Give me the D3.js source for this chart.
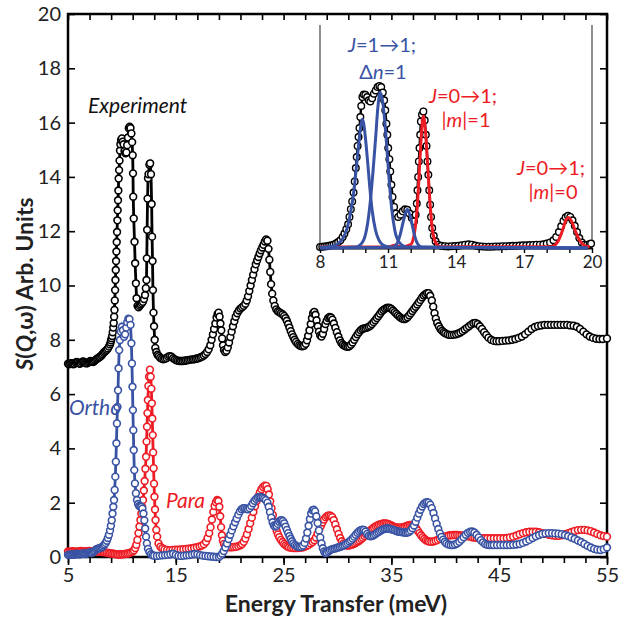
<!DOCTYPE html>
<html>
<head>
<meta charset="utf-8">
<script src="https://cdn.jsdelivr.net/npm/d3@7/dist/d3.min.js"></script>
<style>
  body { margin: 0; background: #fff; }
  text { font-family: Lato, "Open Sans", "DejaVu Sans", sans-serif; }
</style>
</head>
<body>
<div id="vis"></div>
<script>
// S(Q,w): [energy transfer (meV), intensity]
var experiment = [
  [5.0,7.12],[5.1,7.1],[5.2,7.12],[5.3,7.14],[5.4,7.13],[5.5,7.1],[5.6,7.12],[5.7,7.16],[5.8,7.18],[5.9,7.17],
  [6.0,7.14],[6.1,7.12],[6.2,7.14],[6.3,7.18],[6.4,7.2],[6.5,7.18],[6.6,7.15],[6.7,7.13],[6.8,7.14],[6.9,7.17],
  [7.0,7.2],[7.1,7.22],[7.2,7.2],[7.3,7.18],[7.4,7.2],[7.5,7.24],[7.6,7.27],[7.7,7.3],[7.8,7.33],[7.9,7.36],
  [8.0,7.38],[8.1,7.42],[8.2,7.47],[8.3,7.52],[8.4,7.56],[8.5,7.6],[8.6,7.63],[8.7,7.68],[8.8,7.75],[8.9,7.83],
  [8.95,7.9],[9.0,7.98],[9.05,8.06],[9.1,8.14],[9.15,8.28],[9.2,8.45],[9.24,8.62],[9.28,8.85],[9.31,9.1],[9.34,9.45],
  [9.37,9.83],[9.4,10.2],[9.43,10.57],[9.46,10.9],[9.49,11.25],[9.52,11.6],[9.55,11.97],[9.58,12.4],[9.61,12.77],[9.64,13.14],
  [9.67,13.5],[9.7,13.94],[9.74,14.25],[9.78,14.6],[9.82,14.97],[9.86,15.2],[9.92,15.36],[10.0,15.42],[10.08,15.3],[10.16,15.2],
  [10.24,14.95],[10.33,14.87],[10.42,14.9],[10.49,15.17],[10.56,15.45],[10.64,15.79],[10.72,15.85],[10.8,15.8],[10.88,15.6],[10.95,15.28],
  [11.0,14.8],[11.03,14.13],[11.05,13.27],[11.1,12.47],[11.17,11.61],[11.23,10.82],[11.3,10.08],[11.36,9.53],[11.45,9.25],[11.55,9.2],
  [11.65,9.25],[11.75,9.3],[11.85,9.35],[11.95,9.4],[12.05,9.5],[12.15,9.65],[12.22,9.9],[12.28,10.2],[12.31,11.0],[12.34,12.05],
  [12.38,13.2],[12.42,13.95],[12.47,14.1],[12.55,14.45],[12.62,14.5],[12.7,14.1],[12.76,13.0],[12.8,11.8],[12.84,10.9],[12.88,9.83],
  [12.93,9.0],[12.98,8.5],[13.04,8.0],[13.1,7.7],[13.2,7.55],[13.3,7.45],[13.42,7.4],[13.55,7.34],[13.7,7.3],[13.85,7.28],
  [14.0,7.3],[14.15,7.33],[14.3,7.38],[14.45,7.4],[14.6,7.38],[14.75,7.32],[14.9,7.28],[15.05,7.25],[15.2,7.23],[15.35,7.22],
  [15.5,7.22],[15.65,7.22],[15.8,7.23],[15.95,7.24],[16.1,7.25],[16.25,7.26],[16.4,7.27],[16.55,7.28],[16.7,7.28],[16.85,7.3],
  [17.0,7.31],[17.15,7.33],[17.3,7.36],[17.45,7.38],[17.6,7.42],[17.75,7.48],[17.9,7.55],[18.05,7.65],[18.2,7.8],[18.32,8.0],
  [18.44,8.2],[18.55,8.4],[18.67,8.6],[18.78,8.82],[18.88,8.95],[18.97,9.0],[19.06,8.85],[19.14,8.6],[19.22,8.35],[19.3,8.05],
  [19.38,7.8],[19.47,7.62],[19.58,7.55],[19.7,7.6],[19.82,7.72],[19.94,7.9],[20.06,8.1],[20.18,8.3],[20.3,8.5],[20.43,8.68],
  [20.56,8.85],[20.7,8.98],[20.85,9.08],[21.0,9.15],[21.15,9.2],[21.3,9.25],[21.45,9.33],[21.58,9.45],[21.7,9.6],[21.82,9.8],
  [21.94,10.0],[22.06,10.2],[22.18,10.4],[22.3,10.6],[22.42,10.78],[22.54,10.92],[22.66,11.05],[22.78,11.18],[22.9,11.3],[23.02,11.4],
  [23.14,11.5],[23.26,11.62],[23.38,11.7],[23.5,11.65],[23.6,11.35],[23.68,10.95],[23.76,10.5],[23.84,10.05],[23.94,9.7],[24.05,9.45],
  [24.18,9.25],[24.32,9.12],[24.46,9.05],[24.6,9.02],[24.75,8.98],[24.9,8.94],[25.05,8.88],[25.18,8.8],[25.3,8.7],[25.42,8.58],
  [25.54,8.45],[25.66,8.32],[25.78,8.2],[25.9,8.1],[26.02,8.0],[26.15,7.92],[26.3,7.85],[26.45,7.8],[26.6,7.77],[26.75,7.76],
  [26.9,7.78],[27.05,7.85],[27.17,7.98],[27.28,8.15],[27.4,8.35],[27.52,8.58],[27.63,8.8],[27.74,8.98],[27.85,9.03],[27.96,8.92],
  [28.06,8.72],[28.17,8.5],[28.28,8.3],[28.4,8.16],[28.52,8.12],[28.64,8.22],[28.76,8.4],[28.88,8.58],[29.0,8.7],[29.13,8.8],
  [29.26,8.84],[29.4,8.82],[29.53,8.74],[29.66,8.6],[29.8,8.44],[29.94,8.28],[30.08,8.12],[30.22,7.98],[30.36,7.88],[30.5,7.82],
  [30.65,7.78],[30.8,7.75],[30.95,7.74],[31.1,7.76],[31.25,7.82],[31.4,7.9],[31.55,8.0],[31.7,8.1],[31.85,8.2],[32.0,8.28],
  [32.15,8.35],[32.3,8.4],[32.45,8.42],[32.6,8.43],[32.75,8.45],[32.9,8.48],[33.05,8.52],[33.2,8.58],[33.35,8.65],[33.5,8.72],
  [33.65,8.8],[33.8,8.88],[33.95,8.96],[34.1,9.04],[34.25,9.1],[34.4,9.14],[34.55,9.17],[34.7,9.18],[34.85,9.17],[35.0,9.14],
  [35.15,9.08],[35.3,9.02],[35.45,8.96],[35.6,8.9],[35.75,8.85],[35.9,8.8],[36.05,8.77],[36.2,8.76],[36.35,8.78],[36.5,8.83],
  [36.65,8.9],[36.8,8.98],[36.95,9.06],[37.1,9.14],[37.25,9.22],[37.4,9.3],[37.55,9.38],[37.7,9.47],[37.85,9.56],[38.0,9.63],
  [38.15,9.68],[38.3,9.72],[38.45,9.72],[38.6,9.62],[38.75,9.45],[38.88,9.22],[39.0,8.98],[39.12,8.78],[39.25,8.62],[39.4,8.5],
  [39.55,8.4],[39.7,8.33],[39.85,8.28],[40.0,8.24],[40.2,8.2],[40.4,8.18],[40.6,8.18],[40.8,8.19],[41.0,8.2],[41.2,8.23],
  [41.4,8.27],[41.6,8.32],[41.8,8.38],[42.0,8.44],[42.2,8.5],[42.4,8.56],[42.6,8.61],[42.8,8.62],[43.0,8.58],[43.2,8.5],
  [43.4,8.4],[43.6,8.28],[43.8,8.18],[44.0,8.08],[44.25,8.0],[44.5,7.96],[44.75,7.95],[45.0,7.95],[45.3,7.96],[45.6,7.97],
  [45.9,7.98],[46.2,8.0],[46.5,8.03],[46.8,8.07],[47.1,8.12],[47.4,8.2],[47.7,8.3],[48.0,8.4],[48.3,8.47],[48.6,8.51],
  [48.9,8.53],[49.2,8.55],[49.5,8.55],[49.8,8.55],[50.1,8.55],[50.4,8.55],[50.7,8.55],[51.0,8.55],[51.3,8.55],[51.6,8.53],
  [51.9,8.52],[52.2,8.48],[52.5,8.4],[52.8,8.3],[53.1,8.2],[53.4,8.12],[53.7,8.07],[54.0,8.04],[54.3,8.03],[54.6,8.03],[55.0,8.05]
];

var ortho = [
  [5.0,0.08],[5.1,0.07],[5.2,0.08],[5.3,0.1],[5.4,0.09],[5.5,0.08],[5.6,0.09],[5.7,0.1],[5.8,0.12],[5.9,0.11],
  [6.0,0.1],[6.1,0.1],[6.2,0.11],[6.3,0.12],[6.4,0.13],[6.5,0.12],[6.6,0.11],[6.7,0.12],[6.8,0.14],[6.9,0.16],
  [7.0,0.17],[7.1,0.16],[7.2,0.15],[7.3,0.17],[7.4,0.2],[7.5,0.24],[7.6,0.28],[7.7,0.3],[7.8,0.31],[7.9,0.32],
  [8.0,0.33],[8.1,0.35],[8.2,0.38],[8.3,0.42],[8.4,0.46],[8.5,0.52],[8.6,0.6],[8.7,0.7],[8.8,0.82],[8.9,0.98],
  [8.98,1.15],[9.06,1.35],[9.13,1.6],[9.2,1.85],[9.27,2.1],[9.33,2.47],[9.39,2.96],[9.44,3.51],[9.49,4.19],[9.54,4.92],
  [9.59,5.53],[9.64,6.14],[9.69,6.95],[9.75,7.62],[9.82,7.99],[9.9,8.3],[10.0,8.48],[10.1,8.35],[10.2,8.11],[10.3,8.2],
  [10.4,8.45],[10.5,8.65],[10.6,8.78],[10.7,8.76],[10.8,8.55],[10.88,7.87],[10.93,7.13],[10.98,6.27],[11.02,5.41],[11.06,4.67],
  [11.1,3.94],[11.15,3.2],[11.21,2.71],[11.3,2.35],[11.4,2.1],[11.5,1.95],[11.6,1.88],[11.7,1.86],[11.8,1.85],[11.9,1.78],
  [12.0,1.6],[12.08,1.35],[12.16,1.05],[12.24,0.75],[12.32,0.5],[12.42,0.3],[12.55,0.18],[12.7,0.1],[12.85,0.06],[13.0,0.05],
  [13.25,0.04],[13.5,0.05],[13.75,0.06],[14.0,0.07],[14.25,0.08],[14.5,0.1],[14.75,0.12],[15.0,0.08],[15.25,0.05],[15.5,0.04],
  [15.75,0.05],[16.0,0.06],[16.25,0.07],[16.5,0.09],[16.75,0.11],[17.0,0.1],[17.25,0.07],[17.5,0.05],[17.75,0.04],[18.0,0.03],
  [18.25,0.02],[18.5,0.01],[18.75,0.0],[19.0,0.0],[19.15,0.05],[19.3,0.12],[19.45,0.22],[19.6,0.35],[19.75,0.5],[19.9,0.66],
  [20.05,0.82],[20.2,0.98],[20.35,1.13],[20.5,1.28],[20.65,1.42],[20.8,1.56],[20.95,1.68],[21.1,1.76],[21.25,1.8],[21.4,1.8],
  [21.55,1.77],[21.7,1.76],[21.85,1.8],[22.0,1.88],[22.15,1.98],[22.3,2.07],[22.45,2.14],[22.6,2.19],[22.75,2.21],[22.9,2.2],
  [23.05,2.18],[23.2,2.15],[23.35,2.1],[23.5,2.0],[23.62,1.85],[23.74,1.65],[23.86,1.45],[23.98,1.28],[24.1,1.16],[24.22,1.12],
  [24.34,1.15],[24.46,1.22],[24.58,1.3],[24.7,1.35],[24.82,1.36],[24.94,1.32],[25.06,1.24],[25.18,1.12],[25.3,1.0],[25.42,0.88],
  [25.54,0.77],[25.66,0.67],[25.78,0.58],[25.9,0.5],[26.05,0.44],[26.2,0.4],[26.35,0.38],[26.5,0.37],[26.65,0.38],[26.8,0.42],
  [26.95,0.52],[27.08,0.68],[27.2,0.9],[27.32,1.15],[27.44,1.4],[27.56,1.6],[27.68,1.72],[27.8,1.74],[27.92,1.68],[28.04,1.5],
  [28.16,1.25],[28.28,0.98],[28.4,0.72],[28.52,0.5],[28.64,0.32],[28.76,0.2],[28.88,0.15],[29.0,0.16],[29.15,0.2],[29.3,0.25],
  [29.45,0.28],[29.6,0.3],[29.75,0.31],[29.9,0.33],[30.05,0.35],[30.2,0.37],[30.35,0.39],[30.5,0.41],[30.65,0.44],[30.8,0.48],
  [30.95,0.52],[31.1,0.57],[31.25,0.62],[31.4,0.68],[31.55,0.75],[31.7,0.82],[31.85,0.89],[32.0,0.95],[32.15,0.99],[32.3,1.01],
  [32.45,1.0],[32.6,0.94],[32.75,0.85],[32.9,0.78],[33.05,0.76],[33.2,0.77],[33.35,0.8],[33.5,0.84],[33.65,0.88],[33.8,0.92],
  [33.95,0.96],[34.1,0.99],[34.25,1.02],[34.4,1.04],[34.55,1.05],[34.7,1.05],[34.85,1.04],[35.0,1.02],[35.15,1.0],[35.3,0.98],
  [35.45,0.96],[35.6,0.94],[35.75,0.93],[35.9,0.92],[36.05,0.91],[36.2,0.9],[36.35,0.89],[36.5,0.9],[36.65,0.93],[36.8,0.98],
  [36.95,1.06],[37.1,1.16],[37.25,1.3],[37.4,1.45],[37.55,1.6],[37.7,1.74],[37.85,1.86],[38.0,1.95],[38.15,2.0],[38.3,2.02],
  [38.45,2.0],[38.6,1.93],[38.75,1.8],[38.9,1.62],[39.05,1.42],[39.2,1.22],[39.35,1.03],[39.5,0.87],[39.65,0.74],[39.8,0.64],
  [39.95,0.56],[40.1,0.5],[40.3,0.46],[40.5,0.44],[40.7,0.44],[40.9,0.46],[41.1,0.5],[41.3,0.56],[41.5,0.64],[41.7,0.73],
  [41.9,0.82],[42.1,0.89],[42.3,0.93],[42.5,0.94],[42.7,0.9],[42.9,0.82],[43.1,0.72],[43.3,0.62],[43.5,0.54],[43.7,0.48],
  [43.9,0.45],[44.1,0.44],[44.3,0.44],[44.5,0.44],[44.8,0.44],[45.1,0.44],[45.4,0.44],[45.7,0.44],[46.0,0.44],[46.3,0.45],
  [46.6,0.46],[46.9,0.48],[47.2,0.52],[47.5,0.57],[47.8,0.63],[48.1,0.7],[48.4,0.76],[48.7,0.81],[49.0,0.85],[49.3,0.87],
  [49.6,0.88],[49.9,0.88],[50.2,0.87],[50.5,0.86],[50.8,0.84],[51.1,0.81],[51.4,0.77],[51.7,0.72],[52.0,0.67],[52.3,0.61],
  [52.6,0.55],[52.9,0.48],[53.2,0.41],[53.5,0.35],[53.8,0.3],[54.1,0.27],[54.4,0.26],[54.7,0.29],[55.0,0.35]
];

var para = [
  [5.0,0.2],[5.15,0.19],[5.3,0.2],[5.45,0.21],[5.6,0.2],[5.75,0.19],[5.9,0.2],[6.05,0.21],[6.2,0.22],[6.35,0.21],
  [6.5,0.2],[6.65,0.2],[6.8,0.21],[6.95,0.22],[7.1,0.21],[7.25,0.2],[7.4,0.2],[7.55,0.21],[7.7,0.2],[7.85,0.19],
  [8.0,0.19],[8.15,0.18],[8.3,0.18],[8.45,0.17],[8.6,0.16],[8.75,0.15],[8.9,0.14],[9.05,0.13],[9.2,0.12],[9.35,0.11],
  [9.5,0.1],[9.65,0.09],[9.8,0.09],[9.95,0.1],[10.1,0.1],[10.25,0.11],[10.4,0.12],[10.55,0.13],[10.7,0.15],[10.85,0.17],
  [11.0,0.2],[11.12,0.25],[11.24,0.33],[11.34,0.45],[11.44,0.63],[11.54,0.88],[11.63,1.12],[11.72,1.36],[11.8,1.6],[11.88,1.85],
  [11.96,2.1],[12.04,2.45],[12.11,2.8],[12.18,3.25],[12.24,3.69],[12.29,4.25],[12.33,4.8],[12.37,5.3],[12.41,5.78],[12.46,6.3],
  [12.52,6.64],[12.6,6.9],[12.67,6.64],[12.73,6.2],[12.78,5.66],[12.82,5.1],[12.86,4.49],[12.9,3.85],[12.94,3.27],[12.98,2.7],
  [13.02,2.22],[13.07,1.75],[13.12,1.36],[13.19,1.0],[13.27,0.75],[13.4,0.5],[13.57,0.38],[13.75,0.32],[13.95,0.28],[14.2,0.26],
  [14.45,0.25],[14.7,0.26],[14.95,0.27],[15.2,0.27],[15.45,0.28],[15.7,0.29],[15.95,0.3],[16.2,0.31],[16.45,0.32],[16.7,0.34],
  [16.95,0.36],[17.2,0.39],[17.4,0.42],[17.6,0.47],[17.8,0.56],[17.95,0.7],[18.1,0.88],[18.22,1.1],[18.35,1.38],[18.48,1.66],
  [18.6,1.88],[18.72,2.02],[18.84,2.1],[18.95,2.06],[19.04,1.85],[19.12,1.5],[19.2,1.1],[19.28,0.8],[19.37,0.6],[19.47,0.48],
  [19.6,0.41],[19.8,0.37],[20.0,0.36],[20.2,0.36],[20.4,0.37],[20.6,0.38],[20.8,0.4],[21.0,0.43],[21.15,0.48],[21.3,0.56],
  [21.45,0.68],[21.6,0.84],[21.75,1.03],[21.9,1.24],[22.05,1.45],[22.2,1.66],[22.35,1.87],[22.5,2.06],[22.65,2.23],[22.8,2.38],
  [22.95,2.5],[23.1,2.58],[23.25,2.63],[23.4,2.62],[23.52,2.5],[23.64,2.3],[23.76,2.05],[23.88,1.8],[24.0,1.55],[24.12,1.32],
  [24.24,1.12],[24.36,0.96],[24.48,0.83],[24.6,0.73],[24.75,0.63],[24.9,0.55],[25.05,0.48],[25.2,0.43],[25.35,0.39],[25.5,0.36],
  [25.7,0.34],[25.9,0.33],[26.1,0.33],[26.3,0.33],[26.5,0.34],[26.7,0.35],[26.9,0.37],[27.1,0.4],[27.3,0.44],[27.5,0.5],
  [27.7,0.55],[27.85,0.62],[28.0,0.72],[28.15,0.86],[28.3,1.0],[28.45,1.14],[28.6,1.27],[28.75,1.38],[28.9,1.46],[29.05,1.51],
  [29.2,1.53],[29.35,1.52],[29.5,1.47],[29.65,1.36],[29.8,1.2],[29.95,1.02],[30.1,0.85],[30.25,0.7],[30.4,0.58],[30.55,0.5],
  [30.7,0.45],[30.85,0.42],[31.0,0.42],[31.15,0.43],[31.3,0.45],[31.45,0.47],[31.6,0.5],[31.75,0.53],[31.9,0.57],[32.05,0.61],
  [32.2,0.66],[32.35,0.71],[32.5,0.77],[32.65,0.83],[32.8,0.89],[32.95,0.95],[33.1,1.0],[33.25,1.05],[33.4,1.09],[33.55,1.13],
  [33.7,1.16],[33.85,1.19],[34.0,1.21],[34.15,1.23],[34.3,1.24],[34.45,1.24],[34.6,1.23],[34.75,1.21],[34.9,1.18],[35.05,1.15],
  [35.2,1.12],[35.35,1.1],[35.5,1.09],[35.65,1.08],[35.8,1.08],[35.95,1.09],[36.1,1.1],[36.25,1.12],[36.4,1.14],[36.55,1.16],
  [36.7,1.18],[36.85,1.18],[37.0,1.17],[37.15,1.13],[37.3,1.06],[37.45,0.97],[37.6,0.88],[37.75,0.8],[37.9,0.73],[38.05,0.67],
  [38.2,0.62],[38.35,0.59],[38.5,0.57],[38.7,0.56],[38.9,0.57],[39.1,0.6],[39.3,0.63],[39.5,0.67],[39.7,0.71],[39.9,0.74],
  [40.1,0.77],[40.3,0.79],[40.5,0.8],[40.7,0.81],[40.9,0.81],[41.1,0.81],[41.3,0.8],[41.5,0.79],[41.7,0.78],[41.9,0.77],
  [42.1,0.76],[42.3,0.75],[42.5,0.73],[42.7,0.72],[42.9,0.71],[43.1,0.7],[43.3,0.69],[43.6,0.69],[43.9,0.69],[44.2,0.69],
  [44.5,0.69],[44.8,0.69],[45.1,0.69],[45.4,0.69],[45.7,0.7],[46.0,0.72],[46.3,0.75],[46.6,0.79],[46.9,0.84],[47.2,0.88],
  [47.5,0.91],[47.8,0.93],[48.1,0.93],[48.4,0.93],[48.7,0.91],[49.0,0.88],[49.3,0.85],[49.6,0.82],[49.9,0.8],[50.2,0.78],
  [50.5,0.78],[50.8,0.8],[51.1,0.84],[51.4,0.88],[51.7,0.92],[52.0,0.96],[52.3,0.99],[52.6,1.0],[52.9,1.0],[53.2,0.98],
  [53.5,0.95],[53.8,0.9],[54.1,0.85],[54.4,0.8],[54.7,0.77],[55.0,0.75]
];

// inset: measured points and fitted peaks, intensity in arbitrary units
var insetExp = [
  [8.0,0.05],[8.1,0.06],[8.2,0.07],[8.3,0.08],[8.4,0.1],[8.5,0.12],[8.6,0.15],[8.7,0.2],[8.8,0.27],[8.9,0.35],
  [9.0,0.5],[9.08,0.65],[9.16,0.85],[9.24,1.07],[9.3,1.4],[9.36,1.75],[9.42,2.1],[9.48,2.5],[9.53,3.0],[9.58,3.6],
  [9.62,4.1],[9.66,4.6],[9.7,5.0],[9.74,5.4],[9.78,5.9],[9.82,6.4],[9.87,6.8],[9.93,6.92],[10.0,6.9],[10.08,6.8],
  [10.15,6.65],[10.22,6.6],[10.3,6.75],[10.38,6.95],[10.46,7.1],[10.54,7.25],[10.62,7.3],[10.7,7.25],[10.77,7.0],[10.83,6.65],
  [10.88,6.2],[10.93,5.6],[10.97,5.1],[11.01,4.5],[11.06,4.0],[11.1,3.45],[11.15,2.85],[11.2,2.3],[11.27,1.85],[11.35,1.55],
  [11.45,1.4],[11.55,1.5],[11.65,1.65],[11.75,1.74],[11.85,1.72],[11.95,1.55],[12.05,1.35],[12.15,1.2],[12.22,1.5],[12.27,2.0],
  [12.3,2.6],[12.33,3.2],[12.36,3.9],[12.39,4.5],[12.42,5.1],[12.45,5.7],[12.5,6.0],[12.56,6.15],[12.62,5.75],[12.67,5.1],
  [12.7,4.6],[12.74,3.9],[12.78,3.3],[12.82,2.6],[12.86,1.95],[12.9,1.4],[12.95,0.9],[13.02,0.55],[13.1,0.3],[13.2,0.15],
  [13.35,0.1],[13.5,0.08],[13.65,0.07],[13.8,0.08],[13.95,0.09],[14.1,0.1],[14.25,0.12],[14.4,0.15],[14.55,0.17],[14.7,0.15],
  [14.85,0.11],[15.0,0.08],[15.15,0.07],[15.3,0.06],[15.45,0.06],[15.6,0.06],[15.75,0.07],[15.9,0.07],[16.05,0.08],[16.2,0.08],
  [16.35,0.09],[16.5,0.1],[16.65,0.1],[16.8,0.11],[16.95,0.12],[17.1,0.12],[17.25,0.13],[17.4,0.14],[17.55,0.15],[17.7,0.15],
  [17.85,0.17],[18.0,0.2],[18.15,0.25],[18.3,0.35],[18.42,0.5],[18.54,0.72],[18.64,0.98],[18.74,1.22],[18.84,1.38],[18.94,1.45],
  [19.04,1.4],[19.14,1.25],[19.24,1.0],[19.34,0.72],[19.44,0.45],[19.55,0.25],[19.66,0.15],[19.78,0.14],[19.9,0.18],[19.96,0.2]
];
var fitOrthoA = [
  [8.0,0.03],[8.5,0.08],[8.8,0.2],[9.0,0.42],[9.2,0.9],[9.35,1.6],[9.5,2.6],[9.6,3.6],[9.7,4.6],[9.78,5.35],
  [9.86,5.8],[9.93,5.6],[10.0,5.0],[10.1,3.9],[10.2,2.7],[10.3,1.7],[10.45,0.8],[10.6,0.35],[10.8,0.12],[11.2,0.03],[19.8,0.0]
];
var fitOrthoB = [
  [8.0,0.0],[9.6,0.05],[9.9,0.3],[10.1,1.1],[10.25,2.4],[10.35,3.6],[10.45,4.9],[10.55,6.3],[10.65,7.0],[10.75,6.7],
  [10.85,5.8],[10.95,4.5],[11.05,3.1],[11.15,1.9],[11.3,0.8],[11.5,0.25],[11.8,0.05],[19.8,0.0]
];
var fitOrthoC = [
  [8.0,0.0],[11.2,0.03],[11.4,0.2],[11.55,0.65],[11.7,1.3],[11.85,1.74],[12.0,1.35],[12.15,0.65],[12.3,0.2],[12.5,0.03],[19.8,0.0]
];
var fitPara = [
  [8.0,0.04],[11.0,0.05],[11.3,0.12],[11.6,0.05],[12.0,0.15],[12.2,0.9],[12.3,2.0],[12.4,3.8],[12.5,5.5],[12.56,5.95],
  [12.65,5.3],[12.75,3.7],[12.85,2.1],[12.95,0.9],[13.1,0.25],[13.3,0.06],[18.2,0.06],[18.5,0.3],[18.7,0.8],[18.85,1.25],
  [18.95,1.37],[19.1,1.2],[19.25,0.8],[19.45,0.35],[19.7,0.1],[19.9,0.05]
];

var yTicks = [0,2,4,6,8,10,12,14,16,18,20];
var xLabels = [5,15,25,35,45,55];
var xMinor = [5,7,9,11,13,15,17,19,21,23,25,27,29,31,33,35,37,39,41,43,45,47,49,51,53,55];
var insetTicks = [8,9,10,11,12,13,14,15,16,17,18,19,20];
var insetLabels = [8,11,14,17,20];

var blue = '#3953a4', red = '#ed1c24';

var width = 619, height = 619;
var margin = {top: 14, right: 12, bottom: 62, left: 68};

var svg = d3.select('#vis').append('svg')
    .attr('width', width)
    .attr('height', height);

var xScale = d3.scaleLinear().domain([5, 55]).range([margin.left, width - margin.right]);
var yScale = d3.scaleLinear().domain([0, 20]).range([height - margin.bottom, margin.top]);

// axes
var bottomY = height - margin.bottom;
svg.append('g')
    .attr('transform', 'translate(0,' + bottomY + ')')
    .call(d3.axisBottom(xScale).tickValues(xMinor).tickSize(6).tickFormat(''))
    .call(function(g) { g.select('.domain').remove(); });
svg.append('g')
    .attr('class', 'xlab')
    .attr('transform', 'translate(0,' + bottomY + ')')
    .call(d3.axisBottom(xScale).tickValues(xLabels).tickSize(8).tickPadding(3))
    .call(function(g) { g.select('.domain').remove(); });
svg.append('g')
    .attr('transform', 'translate(0,' + margin.top + ')')
    .call(d3.axisTop(xScale).tickValues(xMinor).tickSize(-6).tickFormat(''))
    .call(function(g) { g.select('.domain').remove(); });
svg.append('g')
    .attr('class', 'ylab')
    .attr('transform', 'translate(' + margin.left + ',0)')
    .call(d3.axisLeft(yScale).tickValues(yTicks).tickSizeInner(-7).tickSizeOuter(0).tickPadding(7))
    .call(function(g) { g.select('.domain').remove(); });
svg.append('g')
    .attr('transform', 'translate(' + (width - margin.right) + ',0)')
    .call(d3.axisRight(yScale).tickValues(yTicks).tickSizeInner(-7).tickSizeOuter(0).tickFormat(''))
    .call(function(g) { g.select('.domain').remove(); });

svg.selectAll('.tick line').attr('stroke', '#000').attr('stroke-width', 1.6);
svg.selectAll('.xlab text, .ylab text')
    .style('font-family', 'Lato, "Open Sans", sans-serif')
    .style('font-size', '20px')
    .attr('fill', '#222');

svg.append('rect')
    .attr('x', margin.left)
    .attr('y', margin.top)
    .attr('width', width - margin.left - margin.right)
    .attr('height', height - margin.top - margin.bottom)
    .attr('fill', 'none')
    .attr('stroke', '#000')
    .attr('stroke-width', 2.5);

// axis titles
var yTitle = svg.append('text')
    .attr('transform', 'translate(33,' + 284 + ') rotate(-90)')
    .attr('text-anchor', 'middle')
    .style('font-size', '23px')
    .style('font-weight', 'bold')
    .attr('fill', '#222');
yTitle.append('tspan').style('font-style', 'italic').text('S');
yTitle.append('tspan').text('(');
yTitle.append('tspan').style('font-style', 'italic').text('Q');
yTitle.append('tspan').text(',ω) Arb. Units');

svg.append('text')
    .attr('x', 336)
    .attr('y', 612)
    .attr('text-anchor', 'middle')
    .style('font-size', '23px')
    .style('font-weight', 'bold')
    .attr('fill', '#222')
    .text('Energy Transfer (meV)');

// series
var drawSeries = function(data, color, sx, sy, r, lw) {
    var g = svg.append('g');
    g.append('path')
        .datum(data)
        .attr('d', d3.line().x(function(d) { return sx(d[0]); }).y(function(d) { return sy(d[1]); }))
        .attr('fill', 'none')
        .attr('stroke', color)
        .attr('stroke-width', lw);
    g.selectAll('circle').data(data).enter().append('circle')
        .attr('cx', function(d) { return sx(d[0]); })
        .attr('cy', function(d) { return sy(d[1]); })
        .attr('r', r)
        .attr('fill', '#fff')
        .attr('stroke', color)
        .attr('stroke-width', 1.6);
};

drawSeries(experiment, '#000', xScale, yScale, 3.4, 2.8);
drawSeries(para, red, xScale, yScale, 3.4, 2.8);
drawSeries(ortho, blue, xScale, yScale, 3.4, 2.8);

// labels
var label = function(x, y, txt, color) {
    return svg.append('text')
        .attr('x', x).attr('y', y)
        .style('font-size', '21px')
        .style('font-style', 'italic')
        .attr('fill', color)
        .text(txt);
};
label(88, 113, 'Experiment', '#111');
label(69, 415, 'Ortho', blue);
label(166, 508, 'Para', red);

// inset
var ix = d3.scaleLinear().domain([8, 20]).range([320, 592]);
var iy = d3.scaleLinear().domain([0, 10]).range([248, 26]);

var inset = svg.append('g');
inset.append('line').attr('x1', 320).attr('x2', 320).attr('y1', 25).attr('y2', 248)
    .attr('stroke', '#444').attr('stroke-width', 1.2);
inset.append('line').attr('x1', 592).attr('x2', 592).attr('y1', 25).attr('y2', 248)
    .attr('stroke', '#444').attr('stroke-width', 1.2);

var insetAxis = inset.append('g')
    .attr('transform', 'translate(0,248)')
    .call(d3.axisBottom(ix).tickValues(insetTicks).tickSizeInner(5).tickSizeOuter(0)
        .tickPadding(3)
        .tickFormat(function(d) { return insetLabels.indexOf(d) >= 0 ? d : ''; }));
insetAxis.select('.domain').attr('stroke-width', 2);
insetAxis.selectAll('.tick line').attr('stroke-width', 1.4);
insetAxis.selectAll('text')
    .style('font-family', 'Lato, "Open Sans", sans-serif')
    .style('font-size', '17px')
    .attr('fill', '#222');

var drawFit = function(data, color) {
    inset.append('path')
        .datum(data)
        .attr('d', d3.line().curve(d3.curveMonotoneX)
            .x(function(d) { return ix(d[0]); })
            .y(function(d) { return iy(d[1]); }))
        .attr('fill', 'none')
        .attr('stroke', color)
        .attr('stroke-width', 3);
};

inset.append('path')
    .datum(insetExp)
    .attr('d', d3.line().x(function(d) { return ix(d[0]); }).y(function(d) { return iy(d[1]); }))
    .attr('fill', 'none').attr('stroke', '#000').attr('stroke-width', 2.4);
inset.selectAll('circle.ie').data(insetExp).enter().append('circle')
    .attr('class', 'ie')
    .attr('cx', function(d) { return ix(d[0]); })
    .attr('cy', function(d) { return iy(d[1]); })
    .attr('r', 3.3)
    .attr('fill', '#fff')
    .attr('stroke', '#000')
    .attr('stroke-width', 1.4);
drawFit(fitPara, red);
drawFit(fitOrthoA, blue);
drawFit(fitOrthoB, blue);
drawFit(fitOrthoC, blue);

// inset annotations
var note = function(x, y, parts, color) {
    var t = svg.append('text')
        .attr('x', x).attr('y', y)
        .attr('text-anchor', 'middle')
        .style('font-size', '20px')
        .attr('fill', color);
    parts.forEach(function(p) {
        t.append('tspan').style('font-style', p[1] ? 'italic' : 'normal').text(p[0]);
    });
};
note(382, 52, [['J', 1], ['=1\u21921;', 0]], blue);
note(383, 79, [['\u0394', 0], ['n', 1], ['=1', 0]], blue);
note(463, 103, [['J', 1], ['=0\u21921;', 0]], red);
note(466, 127, [['|', 0], ['m', 1], ['|=1', 0]], red);
note(551, 175, [['J', 1], ['=0\u21921;', 0]], red);
note(553, 199, [['|', 0], ['m', 1], ['|=0', 0]], red);
</script>
</body>
</html>
